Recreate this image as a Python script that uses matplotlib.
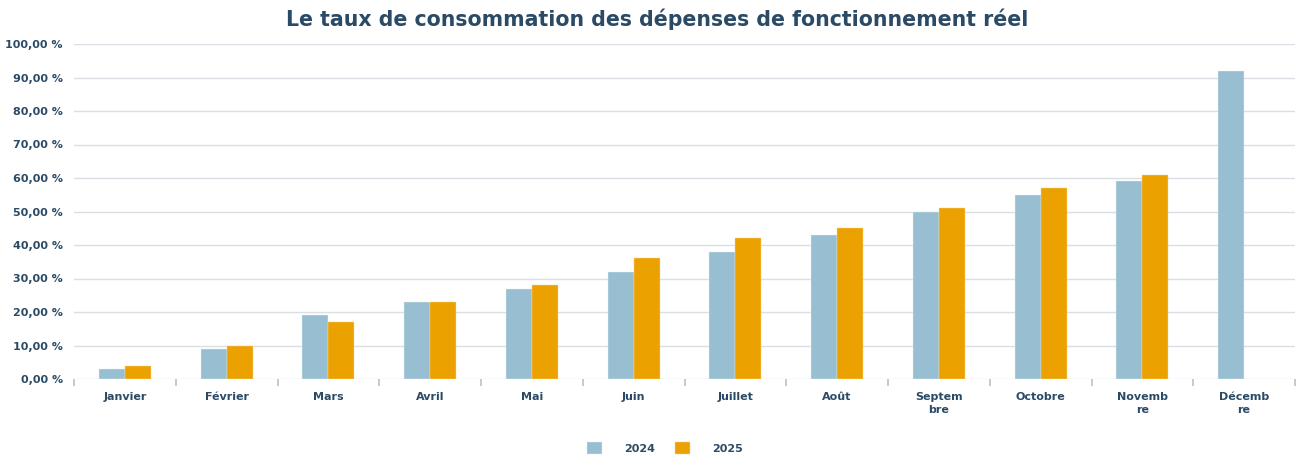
import numpy as np
import matplotlib
matplotlib.use("Agg")
import matplotlib.pyplot as plt
from matplotlib.ticker import FuncFormatter, FixedLocator

# Data
months = ["Janvier", "Février", "Mars", "Avril", "Mai", "Juin", "Juillet",
          "Août", "Septem\nbre", "Octobre", "Novemb\nre", "Décemb\nre"]
taux_2024 = [3, 9, 19, 23, 27, 32, 38, 43, 50, 55, 59, 92]
taux_2025 = [4, 10, 17, 23, 28, 36, 42, 45, 51, 57, 61, np.nan]

C2024 = "#97BFD1"
C2025 = "#EBA100"
TXT = "#2B4A66"
GRID = "#D9DFE5"

fig = plt.figure(figsize=(13.01, 4.57), dpi=100)
ax = fig.add_axes([74 / 1301, 1 - 379 / 457, (1295 - 74) / 1301, (379 - 44) / 457])

x = np.arange(len(months))
w = 0.255
ax.bar(x - w / 2, taux_2024, w, color=C2024, edgecolor="#E6EEF2", linewidth=0.3,
       label="2024", zorder=3)
ax.bar(x + w / 2, taux_2025, w, color=C2025, edgecolor="#F5D9A0", linewidth=0.3,
       label="2025", zorder=3)

ax.set_xlim(-0.5, len(months) - 0.5)
ax.set_ylim(0, 100)
ax.set_yticks(np.arange(0, 101, 10))
ax.yaxis.set_major_formatter(FuncFormatter(lambda v, p: f"{v:.2f}".replace(".", ",") + " %"))
ax.grid(axis="y", color=GRID, linewidth=1, zorder=0)
for s in ax.spines.values():
    s.set_visible(False)

ax.set_xticks(x)
ax.set_xticklabels(months, fontsize=8, fontweight="bold", color=TXT,
                   linespacing=1.4)
ax.xaxis.set_minor_locator(FixedLocator(np.arange(-0.5, len(months), 1)))
ax.tick_params(axis="x", which="major", length=0, pad=9)
ax.tick_params(axis="x", which="minor", length=5, color="#B8C2CC", width=1.2)
ax.tick_params(axis="y", length=0, pad=8, labelsize=8, labelcolor=TXT)
for lab in ax.get_yticklabels():
    lab.set_fontweight("bold")

fig.text(0.505, 1 - 19 / 457, "Le taux de consommation des dépenses de fonctionnement réel",
         ha="center", va="center", fontsize=14.8, fontweight="bold", color=TXT)

leg = fig.legend(loc="center", bbox_to_anchor=(665 / 1301, 1 - 448 / 457), ncol=2,
                 frameon=False, handlelength=1.3, handleheight=1.3,
                 handletextpad=2.0, columnspacing=1.8,
                 prop={"size": 8, "weight": "bold"})
for t in leg.get_texts():
    t.set_color(TXT)

fig.savefig("out.png", dpi=100)
